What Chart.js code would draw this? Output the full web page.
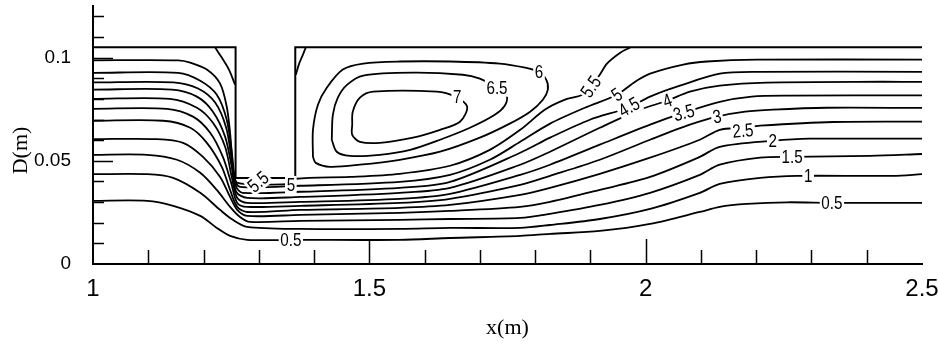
<!DOCTYPE html>
<html>
<head>
<meta charset="utf-8">
<script src="https://cdn.jsdelivr.net/npm/chart.js@4.4.1/dist/chart.umd.min.js"></script>
<style>
  html, body { margin: 0; padding: 0; background: #fff; }
  #wrap { width: 938px; height: 345px; }
</style>
</head>
<body>
<div id="wrap"><canvas id="myChart" width="938" height="345"></canvas></div>
<script>
// axis ticks
var xTickLabels = [1, 1.5, 2, 2.5];
var yTickLabels = [0, 0.05, 0.1];
var xMinorStep = 0.1;
var yMinorStep = 0.01;

// top wall and the baffle
var wallX = [1, 1.258, 1.258, 1.366, 1.366, 2.5];
var wallY = [0.105, 0.105, 0.0417, 0.0417, 0.105, 0.105];

// streamlines, psi = 0.5 ... 5.5
var x05 = [1, 1.098, 1.145, 1.194, 1.224, 1.248, 1.279, 1.375, 1.555, 1.646, 1.773, 1.827, 1.917, 2.008, 2.098, 2.134, 2.183, 2.256, 2.337, 2.5];
var y05 = [0.0306, 0.0306, 0.0282, 0.0233, 0.0175, 0.0136, 0.0117, 0.0117, 0.0117, 0.0126, 0.0136, 0.0146, 0.016, 0.0194, 0.0252, 0.0277, 0.0291, 0.0299, 0.0296, 0.0296];

var x10 = [1, 1.098, 1.145, 1.194, 1.23, 1.253, 1.279, 1.375, 1.555, 1.646, 1.773, 1.827, 1.917, 2.008, 2.098, 2.134, 2.207, 2.274, 2.447, 2.5];
var y10 = [0.0435, 0.0435, 0.0417, 0.0345, 0.0262, 0.0214, 0.018, 0.017, 0.017, 0.0175, 0.0175, 0.0189, 0.0218, 0.0267, 0.0345, 0.0388, 0.0417, 0.0427, 0.0427, 0.0435];

var x15 = [1, 1.098, 1.152, 1.194, 1.224, 1.248, 1.266, 1.284, 1.375, 1.555, 1.646, 1.773, 1.827, 1.917, 2.008, 2.098, 2.134, 2.207, 2.265, 2.406, 2.5];
var y15 = [0.0529, 0.0529, 0.0505, 0.0442, 0.0359, 0.0277, 0.0228, 0.0204, 0.0209, 0.0214, 0.0218, 0.0223, 0.0243, 0.0286, 0.0345, 0.0432, 0.0481, 0.0515, 0.0519, 0.0524, 0.0533];

var x20 = [1, 1.116, 1.163, 1.199, 1.23, 1.248, 1.261, 1.279, 1.375, 1.555, 1.646, 1.773, 1.827, 1.917, 2.008, 2.098, 2.134, 2.23, 2.297, 2.5];
var y20 = [0.0605, 0.0605, 0.0587, 0.0519, 0.0422, 0.0325, 0.0262, 0.0233, 0.0238, 0.0248, 0.0257, 0.0277, 0.0301, 0.0359, 0.0422, 0.0519, 0.0568, 0.0597, 0.0607, 0.0607];

var x25 = [1, 1.127, 1.176, 1.206, 1.233, 1.248, 1.261, 1.279, 1.375, 1.555, 1.646, 1.773, 1.827, 1.917, 2.008, 2.098, 2.134, 2.176, 2.207, 2.339, 2.5];
var y25 = [0.0694, 0.0694, 0.066, 0.0587, 0.0471, 0.0359, 0.0277, 0.0252, 0.0262, 0.0272, 0.0286, 0.0335, 0.0369, 0.0437, 0.0515, 0.0602, 0.065, 0.066, 0.067, 0.0688, 0.069];

var x30 = [1, 1.134, 1.181, 1.212, 1.235, 1.25, 1.261, 1.279, 1.375, 1.555, 1.646, 1.773, 1.827, 1.917, 2.008, 2.08, 2.129, 2.18, 2.23, 2.328, 2.5];
var y30 = [0.0752, 0.0752, 0.0714, 0.0636, 0.0519, 0.0393, 0.0296, 0.0277, 0.0282, 0.0296, 0.0316, 0.0383, 0.0427, 0.0505, 0.0602, 0.0675, 0.0714, 0.0738, 0.0748, 0.0757, 0.0756];

var x35 = [1, 1.139, 1.188, 1.217, 1.239, 1.251, 1.261, 1.279, 1.375, 1.555, 1.646, 1.773, 1.827, 1.917, 2.008, 2.069, 2.134, 2.192, 2.256, 2.5];
var y35 = [0.08, 0.08, 0.0757, 0.0684, 0.0568, 0.0422, 0.032, 0.0296, 0.0301, 0.0316, 0.034, 0.0432, 0.0481, 0.0578, 0.0675, 0.0733, 0.0786, 0.0811, 0.0816, 0.0817];

var x40 = [1, 1.143, 1.188, 1.217, 1.239, 1.251, 1.259, 1.279, 1.375, 1.555, 1.646, 1.773, 1.827, 1.917, 1.99, 2.039, 2.08, 2.134, 2.219, 2.429, 2.5];
var y40 = [0.0845, 0.0845, 0.0811, 0.0738, 0.0617, 0.0471, 0.035, 0.032, 0.0325, 0.0345, 0.0369, 0.0481, 0.0544, 0.066, 0.0748, 0.0791, 0.0835, 0.0864, 0.0879, 0.0883, 0.0882];

var x45 = [1, 1.145, 1.19, 1.221, 1.241, 1.251, 1.259, 1.271, 1.375, 1.555, 1.646, 1.773, 1.827, 1.899, 1.968, 2.008, 2.062, 2.134, 2.201, 2.5];
var y45 = [0.088, 0.088, 0.085, 0.0782, 0.066, 0.0505, 0.0374, 0.0345, 0.035, 0.0369, 0.0398, 0.0539, 0.0612, 0.0699, 0.0757, 0.0811, 0.0864, 0.0922, 0.0931, 0.0931];

var x50 = [1, 1.154, 1.194, 1.224, 1.242, 1.251, 1.257, 1.266, 1.375, 1.555, 1.646, 1.718, 1.773, 1.827, 1.89, 1.948, 1.981, 2.008, 2.068, 2.111, 2.201, 2.5];
var y50 = [0.0926, 0.0926, 0.0888, 0.082, 0.0699, 0.0544, 0.0408, 0.0374, 0.0379, 0.0398, 0.0432, 0.0505, 0.0592, 0.068, 0.0757, 0.082, 0.0883, 0.0922, 0.0966, 0.0981, 0.099, 0.099];

var x55 = [1, 1.154, 1.176, 1.206, 1.23, 1.242, 1.248, 1.253, 1.259, 1.275, 1.356, 1.367, 1.465, 1.555, 1.646, 1.718, 1.773, 1.818, 1.854, 1.885, 1.903, 1.917, 1.93, 1.954, 1.972];
var y55 = [0.0987, 0.0987, 0.0976, 0.0942, 0.0874, 0.0762, 0.0636, 0.0481, 0.0398, 0.0388, 0.0388, 0.0413, 0.0422, 0.0437, 0.0476, 0.0553, 0.065, 0.0748, 0.0796, 0.082, 0.0869, 0.0917, 0.0971, 0.1024, 0.1049];

// closed loops of the recirculation behind the baffle
var x60 = [1.398, 1.398, 1.407, 1.423, 1.452, 1.489, 1.555, 1.646, 1.736, 1.782, 1.805, 1.82, 1.823, 1.814, 1.791, 1.754, 1.7, 1.628, 1.555, 1.483, 1.429, 1.403, 1.398];
var y60 = [0.0519, 0.065, 0.0772, 0.0854, 0.0942, 0.0971, 0.0981, 0.0981, 0.0971, 0.0951, 0.0932, 0.0893, 0.0845, 0.0796, 0.0738, 0.068, 0.0612, 0.0544, 0.0505, 0.0481, 0.0471, 0.049, 0.0519];

var x65 = [1.432, 1.434, 1.443, 1.46, 1.489, 1.579, 1.669, 1.7, 1.731, 1.749, 1.745, 1.727, 1.682, 1.628, 1.574, 1.519, 1.465, 1.441, 1.432];
var y65 = [0.0602, 0.0723, 0.0806, 0.0869, 0.0913, 0.0927, 0.0917, 0.0898, 0.0854, 0.0811, 0.0767, 0.0723, 0.066, 0.0602, 0.0553, 0.0529, 0.0524, 0.0544, 0.0602];

var x70 = [1.469, 1.47, 1.483, 1.507, 1.622, 1.655, 1.677, 1.664, 1.628, 1.579, 1.519, 1.483, 1.469, 1.469];
var y70 = [0.0675, 0.0738, 0.0806, 0.0835, 0.0835, 0.0811, 0.0762, 0.0689, 0.065, 0.0612, 0.0587, 0.0592, 0.0626, 0.0675];

// small corner eddies at the top of the baffle
var xCornerL = [1.221, 1.233, 1.246, 1.257];
var yCornerL = [0.1049, 0.1, 0.0942, 0.0869];
var xCornerR = [1.385, 1.38, 1.373, 1.367];
var yCornerR = [0.1049, 0.1015, 0.0971, 0.0917];

// contour labels
var labelText  = ["7", "6.5", "6", "5.5", "5", "4.5", "4", "3.5", "3", "2.5", "2", "1.5", "1", "0.5", "0.5", "5.5", "5"];
var labelX     = [1.659, 1.731, 1.807, 1.901, 1.948, 1.970, 2.039, 2.069, 2.129, 2.176, 2.230, 2.265, 2.294, 2.337, 1.358, 1.299, 1.358];
var labelY     = [0.0811, 0.0854, 0.0932, 0.0859, 0.0820, 0.0760, 0.0791, 0.0733, 0.0714, 0.0646, 0.0597, 0.0519, 0.0427, 0.0296, 0.0117, 0.0398, 0.0383];
var labelAngle = [0, 0, 0, -55, -35, -30, -20, -15, -10, -5, 0, 0, 0, 0, 0, -40, 0];

var sans = "'Liberation Sans', Arial, sans-serif";
var serif = "'Liberation Serif', 'DejaVu Serif', serif";

function toPoints(xs, ys) {
  var pts = [];
  for (var i = 0; i < xs.length; i++) {
    pts.push({ x: xs[i], y: ys[i] });
  }
  return pts;
}

function lineSet(xs, ys, width, tension) {
  return {
    data: toPoints(xs, ys),
    showLine: true,
    borderColor: "#000",
    borderWidth: width,
    pointRadius: 0,
    tension: tension,
    fill: false,
  };
}

function noEdgePadding(scale) {
  scale.paddingTop = 0;
  scale.paddingBottom = 0;
  scale.paddingLeft = 0;
  scale.paddingRight = 0;
}

var streams = [
  [x05, y05], [x10, y10], [x15, y15], [x20, y20], [x25, y25], [x30, y30],
  [x35, y35], [x40, y40], [x45, y45], [x50, y50], [x55, y55],
  [x60, y60], [x65, y65], [x70, y70], [xCornerL, yCornerL], [xCornerR, yCornerR],
];
var datasets = [lineSet(wallX, wallY, 2, 0)];
for (var i = 0; i < streams.length; i++) {
  datasets.push(lineSet(streams[i][0], streams[i][1], 1.8, 0.3));
}

var decor = {
  id: "decor",
  afterDraw: function (chart) {
    var ctx = chart.ctx;
    var xs = chart.scales.x;
    var ys = chart.scales.y;
    var bottom = ys.getPixelForValue(0);
    var left = xs.getPixelForValue(1);
    ctx.save();
    ctx.strokeStyle = "#000";
    ctx.lineWidth = 1.5;
    // inner tick marks
    for (var i = 1; i < 15; i++) {
      var v = 1 + i * xMinorStep;
      var major = i % 5 === 0;
      var px = Math.round(xs.getPixelForValue(v)) + 0.5;
      ctx.beginPath();
      ctx.moveTo(px, bottom);
      ctx.lineTo(px, bottom - (major ? 25 : 14));
      ctx.stroke();
    }
    for (var j = 1; j <= 12; j++) {
      var w = j * yMinorStep;
      var majorY = j % 5 === 0;
      var py = Math.round(ys.getPixelForValue(w)) + 0.5;
      ctx.beginPath();
      ctx.moveTo(left, py);
      ctx.lineTo(left + (majorY ? 20 : 11), py);
      ctx.stroke();
    }
    // contour labels
    ctx.font = "19px " + sans;
    ctx.textAlign = "center";
    ctx.textBaseline = "middle";
    for (var k = 0; k < labelText.length; k++) {
      var lx = xs.getPixelForValue(labelX[k]);
      var ly = ys.getPixelForValue(labelY[k]);
      var tw = ctx.measureText(labelText[k]).width;
      ctx.save();
      ctx.translate(lx, ly);
      ctx.rotate((labelAngle[k] * Math.PI) / 180);
      ctx.scale(0.8, 1);
      ctx.fillStyle = "#fff";
      ctx.fillRect(-tw / 2 - 2, -9, tw + 4, 18);
      ctx.fillStyle = "#000";
      ctx.fillText(labelText[k], 0, 1);
      ctx.restore();
    }
    // axis titles
    ctx.fillStyle = "#000";
    ctx.font = "22px " + serif;
    ctx.fillText("x(m)", (xs.left + xs.right) / 2, 328);
    ctx.save();
    ctx.translate(21, ys.getPixelForValue(0.055));
    ctx.rotate(-Math.PI / 2);
    ctx.fillText("D(m)", 0, 0);
    ctx.restore();
    ctx.restore();
  },
};

var ctx = document.getElementById("myChart").getContext("2d");
var myChart = new Chart(ctx, {
  type: "scatter",
  data: { datasets: datasets },
  options: {
    responsive: false,
    animation: false,
    devicePixelRatio: 1,
    layout: { padding: { top: 6, right: 16, left: 0, bottom: 0 } },
    plugins: {
      legend: { display: false },
      tooltip: { enabled: false },
    },
    scales: {
      x: {
        type: "linear",
        min: 1,
        max: 2.5,
        grid: { display: false },
        border: { display: true, color: "#000", width: 2 },
        afterBuildTicks: function (scale) {
          scale.ticks = xTickLabels.map(function (v) { return { value: v }; });
        },
        afterFit: function (scale) {
          scale.height = 81;
          noEdgePadding(scale);
        },
        ticks: {
          color: "#000",
          font: { family: sans, size: 24 },
          padding: 3,
          maxRotation: 0,
          autoSkip: false,
          callback: function (v) { return String(v); },
        },
      },
      y: {
        type: "linear",
        min: 0,
        max: 0.125,
        grid: { display: false },
        border: { display: true, color: "#000", width: 2 },
        afterBuildTicks: function (scale) {
          scale.ticks = yTickLabels.map(function (v) { return { value: v }; });
        },
        afterFit: function (scale) {
          scale.width = 93;
          noEdgePadding(scale);
        },
        ticks: {
          color: "#000",
          font: { family: sans, size: 19 },
          padding: 14,
          autoSkip: false,
          callback: function (v) { return String(v); },
        },
      },
    },
  },
  plugins: [decor],
});
</script>
</body>
</html>
